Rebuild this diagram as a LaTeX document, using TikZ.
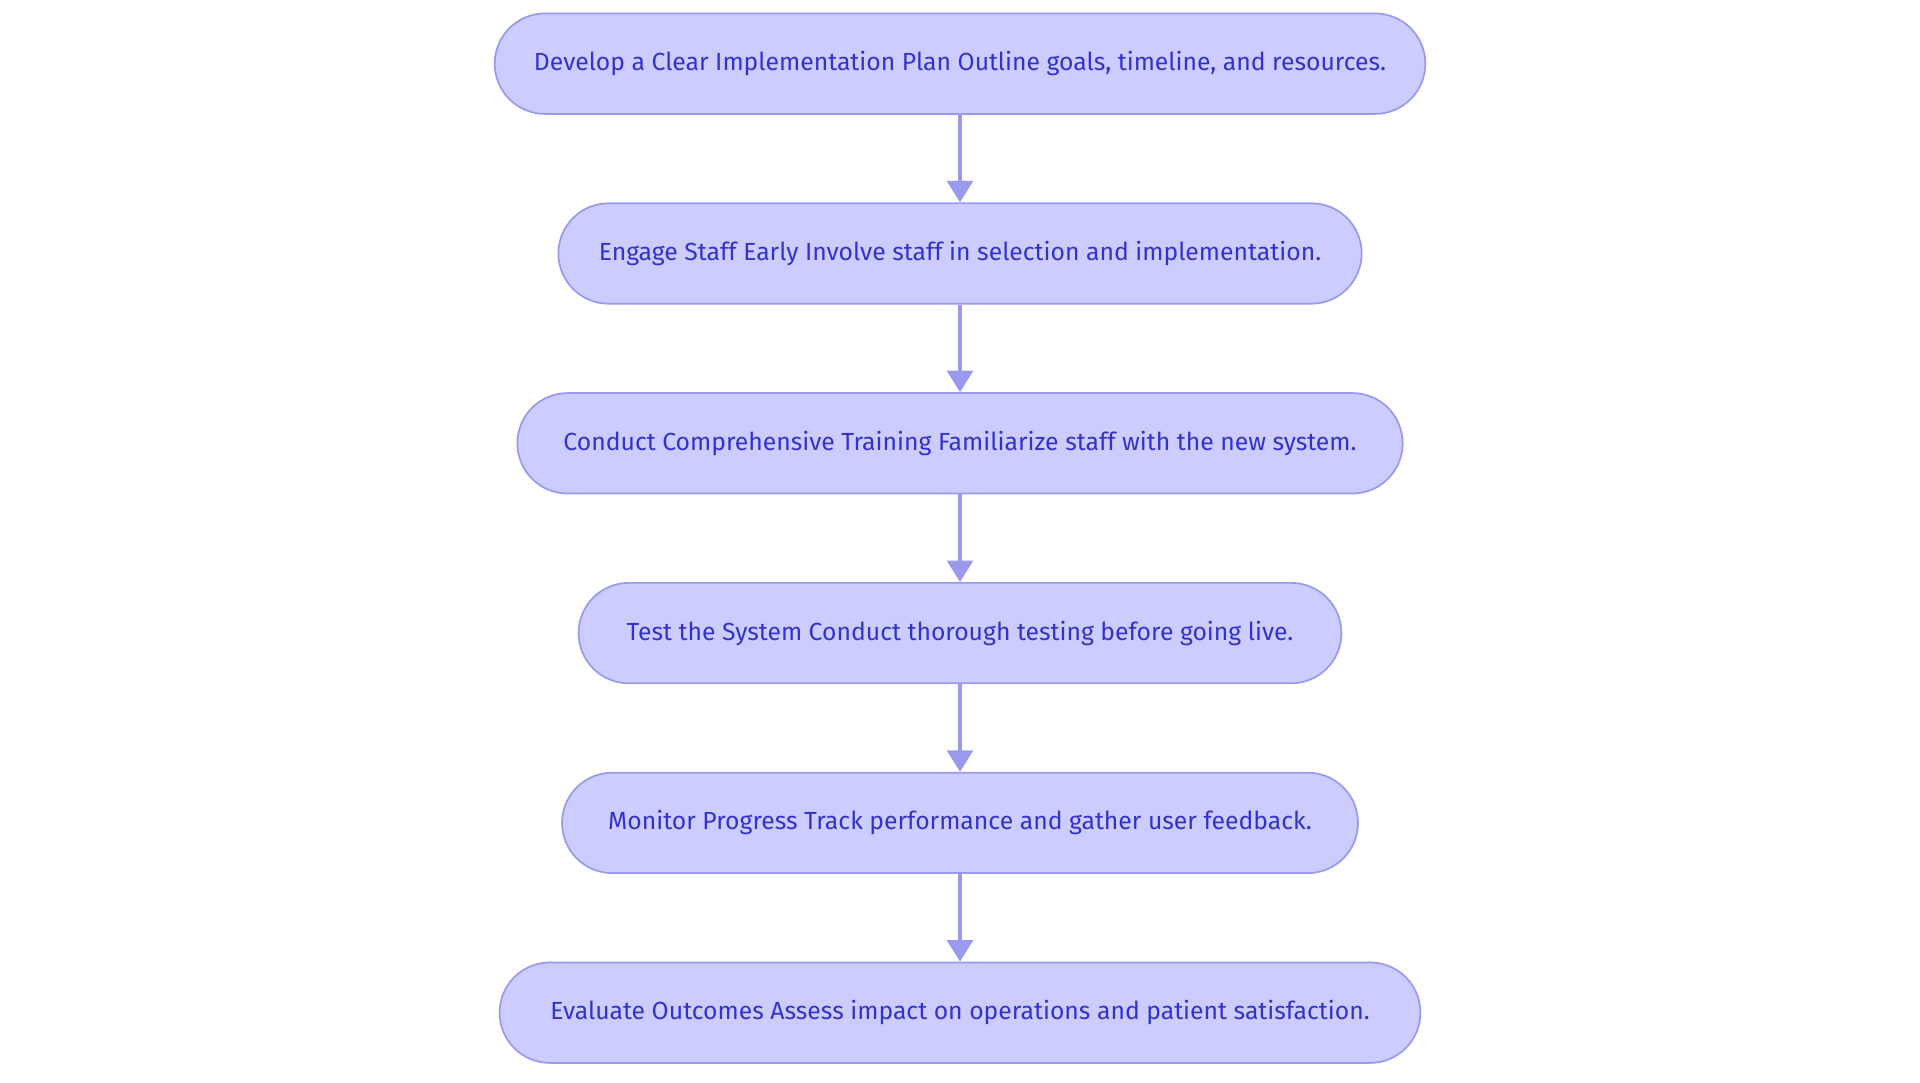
\documentclass[tikz,border=0pt]{standalone}
\usepackage{fontspec}
\setmainfont{Fira Sans}
\usetikzlibrary{arrows.meta}
\definecolor{stepfill}{HTML}{CCCCFF}
\definecolor{stepline}{HTML}{9999EE}
\definecolor{steptext}{HTML}{3333CC}
\begin{document}
\begin{tikzpicture}[
	stepbox/.style={draw=stepline,fill=stepfill,text=steptext,rounded corners=0.41cm,
		minimum height=0.82cm,inner sep=0pt,font=\fontsize{5.75}{7}\selectfont},
	flow/.style={draw=stepline,line width=0.8pt,-{Triangle[length=5pt,width=6pt]}}]
	\useasboundingbox (0,0) rectangle (15.68,-8.844);
	\node[stepbox,minimum width=7.6cm]  (plan)  at (7.84,-0.52) {Develop a Clear Implementation Plan Outline goals, timeline, and resources.};
	\node[stepbox,minimum width=6.56cm] (staff) at (7.84,-2.07) {Engage Staff Early Involve staff in selection and implementation.};
	\node[stepbox,minimum width=7.23cm] (train) at (7.84,-3.62) {Conduct Comprehensive Training Familiarize staff with the new system.};
	\node[stepbox,minimum width=6.23cm] (test)  at (7.84,-5.17) {Test the System Conduct thorough testing before going live.};
	\node[stepbox,minimum width=6.5cm]  (watch) at (7.84,-6.72) {Monitor Progress Track performance and gather user feedback.};
	\node[stepbox,minimum width=7.52cm] (eval)  at (7.84,-8.27) {Evaluate Outcomes Assess impact on operations and patient satisfaction.};

	\draw[flow] (plan) -- (staff);
	\draw[flow] (staff) -- (train);
	\draw[flow] (train) -- (test);
	\draw[flow] (test) -- (watch);
	\draw[flow] (watch) -- (eval);
\end{tikzpicture}
\end{document}
